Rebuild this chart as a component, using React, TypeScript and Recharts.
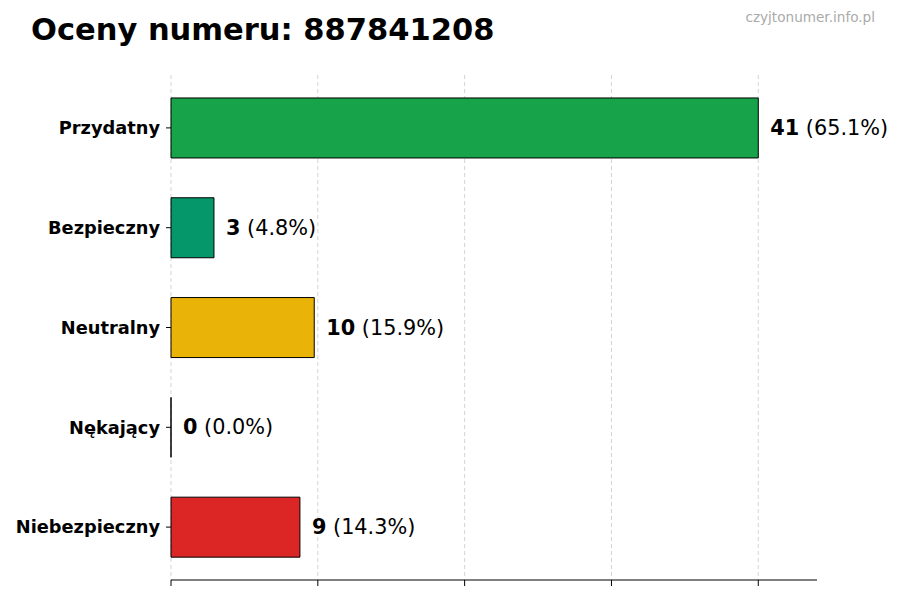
import { BarChart, Bar, XAxis, YAxis, CartesianGrid, LabelList, Cell } from 'recharts';

const categories = ['Przydatny', 'Bezpieczny', 'Neutralny', 'Nękający', 'Niebezpieczny'];
const counts = [41, 3, 10, 0, 9];
const percents = ['65.1', '4.8', '15.9', '0.0', '14.3'];
const colors = ['#16a34a', '#059669', '#eab308', '#6b7280', '#dc2626'];
const xTicks = [0, 10.25, 20.5, 30.75, 41];

const data = categories.map((name, i) => ({
  name,
  value: counts[i],
  pct: percents[i],
}));

const FONT = '"DejaVu Sans", sans-serif';

const BarShape = (props: any) => {
  const { x, y, width, height, fill } = props;
  const w = Math.max(0, width || 0);
  return (
    <path
      d={`M${x},${y}h${w}v${height}h${-w}Z`}
      fill={fill}
      stroke="#000"
      strokeWidth={1}
    />
  );
};

const ValueLabel = (props: any) => {
  const { x, y, width, height, index } = props;
  return (
    <text
      x={x + width + 12}
      y={y + height / 2}
      dominantBaseline="central"
      fontFamily={FONT}
      fontSize={20.8}
      fill="#000"
    >
      <tspan fontWeight="bold">{counts[index]}</tspan>
      <tspan> ({percents[index]}%)</tspan>
    </text>
  );
};

export default function App() {
  return (
    <div style={{ position: 'absolute', left: 0, top: 0, width: 900, height: 600, background: '#fff' }}>
      <div
        style={{
          position: 'absolute',
          left: 31,
          top: 12,
          fontFamily: FONT,
          fontWeight: 'bold',
          fontSize: 30.5,
          color: '#000',
          whiteSpace: 'nowrap',
        }}
      >
        Oceny numeru: 887841208
      </div>
      <div
        style={{
          position: 'absolute',
          right: 25,
          top: 9,
          fontFamily: FONT,
          fontSize: 13.6,
          color: '#aaaaaa',
          whiteSpace: 'nowrap',
        }}
      >
        czyjtonumer.info.pl
      </div>
      <BarChart
        width={900}
        height={600}
        data={data}
        layout="vertical"
        margin={{ top: 75, right: 83, left: 0, bottom: 0 }}
        barCategoryGap="20%"
      >
        <CartesianGrid
          horizontal={false}
          vertical={true}
          syncWithTicks={true}
          stroke="#d4d4d4"
          strokeDasharray="4 3"
        />
        <XAxis
          type="number"
          domain={[0, 45.1]}
          ticks={xTicks}
          height={20}
          tickFormatter={() => ''}
          axisLine={{ stroke: '#000', strokeWidth: 1.2 }}
          tickLine={{ stroke: '#000', strokeWidth: 1 }}
          tickSize={6}
        />
        <YAxis
          type="category"
          dataKey="name"
          width={171}
          axisLine={false}
          tickLine={{ stroke: '#000', strokeWidth: 1 }}
          tickSize={5}
          tickMargin={6}
          padding={{ top: 3, bottom: 3 }}
          tick={{ fill: '#000', fontFamily: FONT, fontWeight: 'bold', fontSize: 17.8 }}
        />
        <Bar dataKey="value" isAnimationActive={false} shape={<BarShape />}>
          {data.map((d, i) => (
            <Cell key={d.name} fill={colors[i]} />
          ))}
          <LabelList dataKey="value" content={<ValueLabel />} />
        </Bar>
      </BarChart>
    </div>
  );
}
